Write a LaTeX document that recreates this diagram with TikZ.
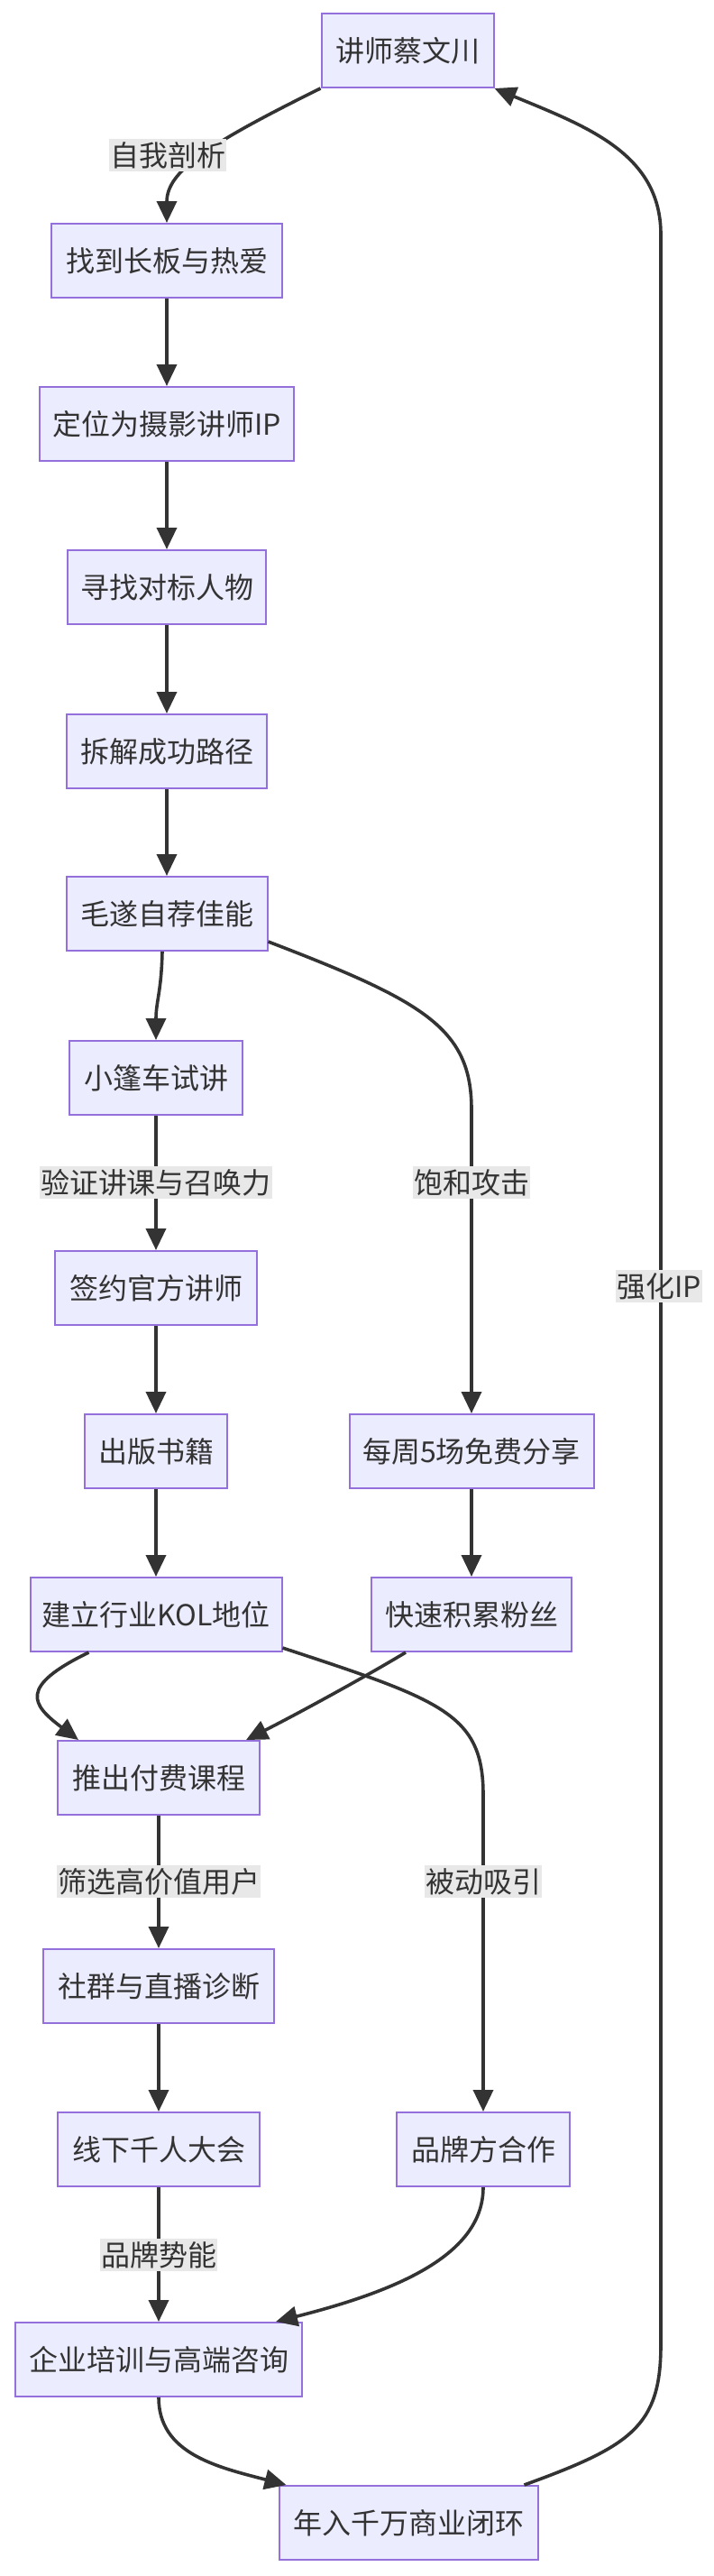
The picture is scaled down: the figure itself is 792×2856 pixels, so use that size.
\documentclass[tikz,border=0pt]{standalone}
\usepackage{fontspec}
\setmainfont{Noto Sans CJK SC}
\usetikzlibrary{arrows.meta}
\definecolor{boxfill}{HTML}{ECECFF}\definecolor{boxline}{HTML}{9370DB}\definecolor{ink}{HTML}{333333}\definecolor{lblbg}{HTML}{E8E8E8}
\tikzset{>={Triangle[length=24pt,width=22pt]},every node/.style={font=\fontsize{32}{38}\selectfont,text=ink},
box/.style={draw=boxline,fill=boxfill,line width=2pt,minimum height=82pt,inner sep=0pt},
lbl/.style={fill=lblbg,inner xsep=1pt,inner ysep=3pt},flow/.style={draw=ink,line width=3.6pt,->}}
\begin{document}
\begin{tikzpicture}[x=1pt,y=-1pt]
\useasboundingbox[fill=white] (0,0) rectangle (792,2856);
\node[box,minimum width=191pt] (kai) at (452,56) {讲师蔡文川};
\node[box,minimum width=256pt] (zhao) at (185,289) {找到长板与热爱};
\node[box,minimum width=282pt] (ding) at (185,470) {定位为摄影讲师IP};
\node[box,minimum width=220pt] (xun) at (185,651) {寻找对标人物};
\node[box,minimum width=222pt] (chai) at (185,833) {拆解成功路径};
\node[box,minimum width=223pt] (mao) at (185,1013) {毛遂自荐佳能};
\node[box,minimum width=192pt] (xiao) at (173,1195) {小篷车试讲};
\node[box,minimum width=224pt] (qian) at (173,1428) {签约官方讲师};
\node[box,minimum width=158pt] (chu) at (173,1609) {出版书籍};
\node[box,minimum width=271pt] (mei) at (523,1609) {每周5场免费分享};
\node[box,minimum width=279pt] (jian) at (173,1790) {建立行业KOL地位};
\node[box,minimum width=222pt] (kuai) at (523,1790) {快速积累粉丝};
\node[box,minimum width=224pt] (tui) at (176,1971) {推出付费课程};
\node[box,minimum width=256pt] (she) at (176,2202) {社群与直播诊断};
\node[box,minimum width=224pt] (xian) at (176,2383) {线下千人大会};
\node[box,minimum width=192pt] (pin) at (536,2383) {品牌方合作};
\node[box,minimum width=318pt] (qi) at (176,2616) {企业培训与高端咨询};
\node[box,minimum width=287pt] (nian) at (453,2797) {年入千万商业闭环};
\draw[flow] (kai.south west) .. controls (230,160) and (185,190) .. (zhao.north);
\draw[flow] (zhao)--(ding);\draw[flow] (ding)--(xun);\draw[flow] (xun)--(chai);\draw[flow] (chai)--(mao);
\draw[flow] ([xshift=-5pt]mao.south) .. controls (179,1100) and (173,1110) .. (xiao.north);
\draw[flow] ([yshift=11pt]mao.south east) .. controls (470,1110) and (523,1140) .. (523,1230) -- (mei.north);
\draw[flow] (xiao)--(qian);\draw[flow] (qian)--(chu);\draw[flow] (chu)--(jian);\draw[flow] (mei)--(kuai);
\draw[flow] ([xshift=66pt]jian.south west) .. controls (20,1870) and (35,1890) .. ([xshift=24pt]tui.north west);
\draw[flow] ([xshift=39pt]kuai.south west) .. controls (400,1862) and (330,1900) .. ([xshift=-16pt]tui.north east);
\draw[flow] ([yshift=5pt]jian.south east) .. controls (490,1885) and (536,1900) .. (536,1990) -- (pin.north);
\draw[flow] (tui)--(she);\draw[flow] (she)--(xian);\draw[flow] (xian)--(qi);
\draw[flow] (pin.south) .. controls (536,2500) and (440,2540) .. ([xshift=-30pt]qi.north east);
\draw[flow] (qi.south) .. controls (176,2720) and (240,2735) .. ([xshift=9pt]nian.north west);
\draw[flow] ([xshift=-16pt]nian.north east) .. controls (700,2712) and (733,2690) .. (733,2600) -- (733,260) .. controls (733,170) and (650,140) .. (kai.south east);
\node[lbl] (l1) at (186,172) {自我剖析};
\node[lbl] (l2) at (173,1311) {验证讲课与召唤力};
\node[lbl] (l3) at (523,1311) {饱和攻击};
\node[lbl] (l4) at (176,2086) {筛选高价值用户};
\node[lbl] (l5) at (536,2086) {被动吸引};
\node[lbl] (l6) at (176,2500) {品牌势能};
\node[lbl] (l7) at (731,1426) {强化IP};
\end{tikzpicture}
\end{document}
